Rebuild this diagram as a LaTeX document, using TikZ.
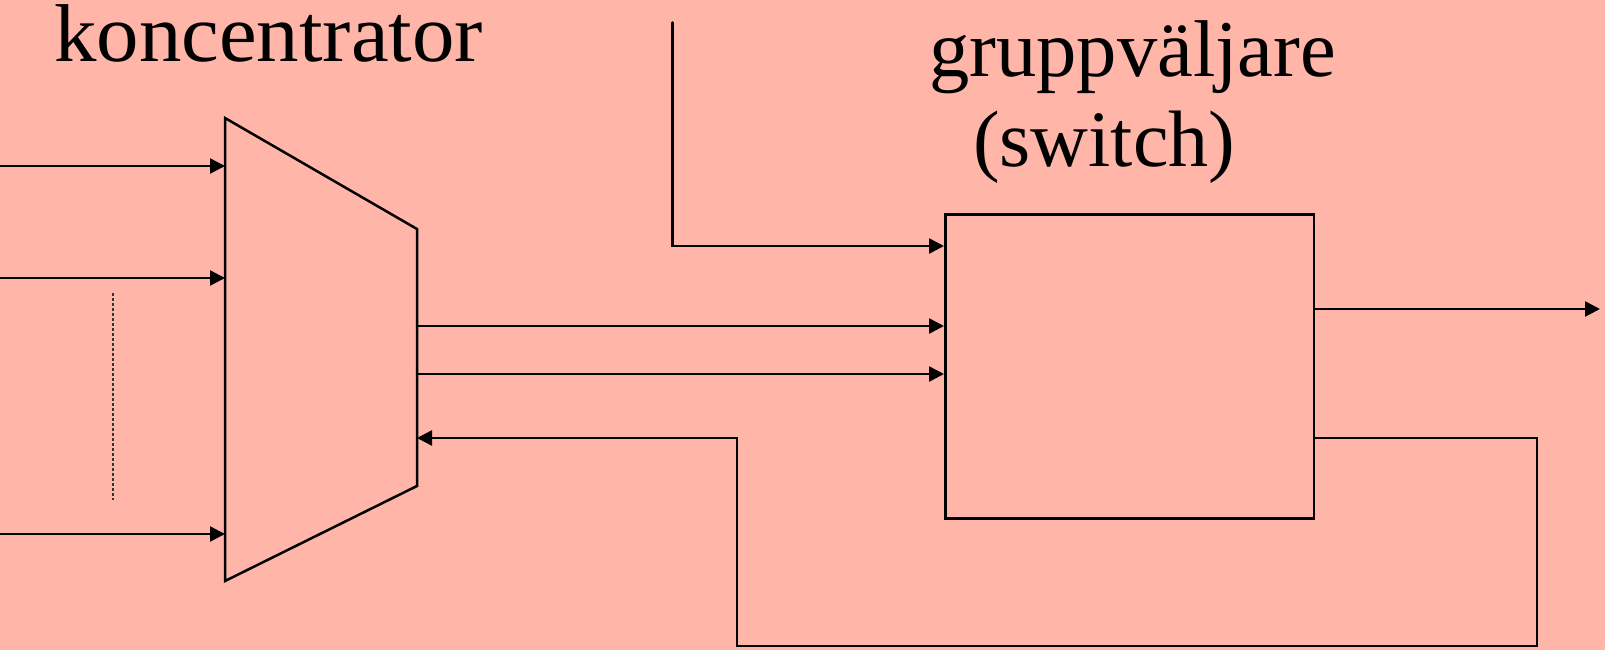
\documentclass[tikz,border=0pt]{standalone}
\usepackage{fontspec}
\setmainfont{Liberation Serif}
\newfontfamily\lblfont{Liberation Serif}
\newfontfamily\widelblfont{Liberation Serif}[FakeStretch=1.035]
\usetikzlibrary{arrows.meta}
\definecolor{bgsalmon}{RGB}{255,182,169}
\tikzset{
  wire/.style={line width=2.5pt, line cap=round, line join=miter},
  arr/.style={wire, -{Triangle[length=15pt,width=15pt]}},
  label/.style={font={\lblfont\fontsize{80}{96}\selectfont}, inner sep=0pt, anchor=base west},
  widelabel/.style={label, font={\widelblfont\fontsize{82}{98}\selectfont}},
  switchbox/.style={draw, line width=2.5pt, inner sep=0pt, anchor=north west,
    minimum width=368.5pt, minimum height=304pt}
}
\begin{document}
\begin{tikzpicture}[x=1pt,y=-1pt]
  % canvas
  \fill[bgsalmon] (0,0) rectangle (1605,650);
  \useasboundingbox (0,0) rectangle (1605,650);

  % concentrator (trapezoid)
  \coordinate (ktl) at (225,118);
  \coordinate (ktr) at (417,229);
  \coordinate (kbr) at (417,486);
  \coordinate (kbl) at (225,581);
  \draw[wire] (ktl) -- (ktr) -- (kbr) -- (kbl) -- cycle;

  % group selector box
  \node[switchbox] (sw) at (944,213) {};

  % labels
  \node[widelabel] (lkonc) at (54,62) {koncentrator};
  \node[label, font={\lblfont\fontsize{80.5}{96}\selectfont}] (lgrp) at (929,77) {gruppväljare};
  \node[label] (lsw) at (973,166) {(switch)};

  % subscriber inputs to the concentrator
  \coordinate (in1) at (0,166);
  \coordinate (in2) at (0,278);
  \coordinate (in3) at (0,534);
  \draw[arr] (in1) -- (ktl |- in1);
  \draw[arr] (in2) -- (ktl |- in2);
  \draw[arr] (in3) -- (ktl |- in3);
  \coordinate (dtop) at (113,293);
  \coordinate (dbot) at (113,500);
  \draw[line width=2.2pt, black!80, dash pattern=on 3pt off 2pt] (dtop) -- (dbot);

  % trunk lines from concentrator to switch
  \coordinate (t1) at (417,326);
  \coordinate (t2) at (417,374);
  \draw[arr] (t1) -- (sw.west |- t1);
  \draw[arr] (t2) -- (sw.west |- t2);

  % external incoming line
  \coordinate (ext) at (672.5,22.5);
  \coordinate (extc) at (672.5,246);
  \draw[arr] (ext) -- (extc) -- (sw.west |- extc);

  % outgoing line
  \coordinate (outp) at (1600,309);
  \draw[arr] (sw.east |- outp) -- (outp);

  % return path back to the concentrator
  \coordinate (r0) at (1312.5,438);
  \coordinate (r1) at (1537,438);
  \coordinate (r2) at (1537,646);
  \coordinate (r3) at (737,646);
  \coordinate (r4) at (737,438);
  \draw[arr] (sw.east |- r0) -- (r1) -- (r2) -- (r3) -- (r4) -- (kbr |- r4);
\end{tikzpicture}
\end{document}
